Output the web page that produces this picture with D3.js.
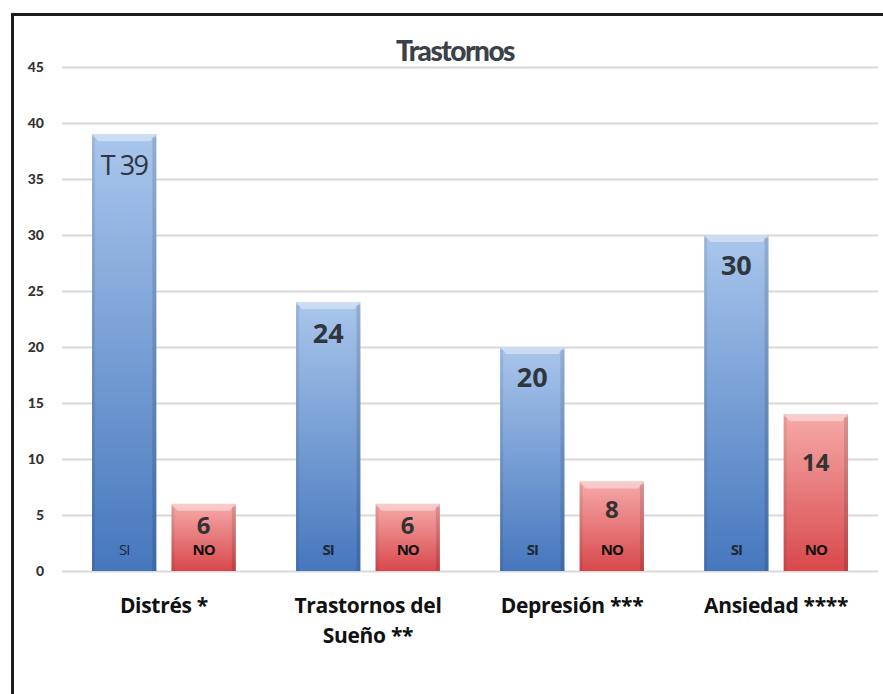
<!DOCTYPE html>
<html>
<head>
<meta charset="utf-8">
<script src="https://cdn.jsdelivr.net/npm/d3@7"></script>
<style>
  body { margin: 0; background: #fff; }
  svg { display: block; }
  .tick text { font-family: Lato, "Open Sans", sans-serif; font-weight: 900; font-size: 14px; fill: #333; }
</style>
</head>
<body>
<svg width="883" height="694"></svg>
<script>
// datos
var categories = ["Distrés *", "Trastornos del|Sueño **", "Depresión ***", "Ansiedad ****"],
	series = ["SI", "NO"],
	siValues = [39, 24, 20, 30],
	noValues = [6, 6, 8, 14],
	siLabels = ["T 39", "24", "20", "30"],
	yTicks = [0, 5, 10, 15, 20, 25, 30, 35, 40, 45];

var svg = d3.select("svg"),
	plotL = 62, plotR = 878, plotT = 67, plotB = 571;

// marco
svg.append("rect")
	.attr("x", 12.5).attr("y", 14.5)
	.attr("width", 900).attr("height", 720)
	.attr("fill", "none").attr("stroke", "#1e1e1e").attr("stroke-width", 3);

var y = d3.scaleLinear().domain([0, 45]).range([plotB, plotT]);
var x0 = d3.scaleBand().domain(categories).range([plotL, plotR])
	.paddingInner(0.295).paddingOuter(0.147);
var x1 = d3.scaleBand().domain(series).range([0, x0.bandwidth()]).paddingInner(0.19);

// gradientes
var defs = svg.append("defs");
function grad(id, c1, c2) {
	var g = defs.append("linearGradient").attr("id", id)
		.attr("x1", 0).attr("y1", 0).attr("x2", 0).attr("y2", 1);
	g.append("stop").attr("offset", "0%").attr("stop-color", c1);
	g.append("stop").attr("offset", "100%").attr("stop-color", c2);
}
grad("gSI", "#a9c6ec", "#4677bd");
grad("gNO", "#f6aaa9", "#d8484b");

// eje y con lineas de cuadricula
svg.append("g")
	.attr("transform", "translate(" + plotL + ",0)")
	.call(d3.axisLeft(y).tickValues(yTicks).tickSize(-(plotR - plotL)).tickPadding(18))
	.call(function(g) {
		g.select(".domain").remove();
		g.selectAll(".tick line").attr("stroke", "#d9d9d9").attr("stroke-width", 2);
	});

// titulo
svg.append("text")
	.attr("x", 455).attr("y", 61)
	.attr("text-anchor", "middle")
	.style("font-family", "Lato, sans-serif").style("font-weight", "900")
	.style("font-size", "28px").style("letter-spacing", "-1.5px")
	.attr("fill", "#3b4049")
	.text("Trastornos");

// barras
var rows = [];
categories.forEach(function(c, i) {
	rows.push({cat: c, s: "SI", v: siValues[i], lab: siLabels[i], i: i});
	rows.push({cat: c, s: "NO", v: noValues[i], lab: String(noValues[i]), i: i});
});

var bars = svg.selectAll(".bar").data(rows).enter().append("g").attr("class", "bar")
	.attr("transform", function(d) { return "translate(" + (x0(d.cat) + x1(d.s)) + ",0)"; });

var bw = x1.bandwidth();
bars.append("rect")
	.attr("x", 0).attr("width", bw)
	.attr("y", function(d) { return y(d.v); })
	.attr("height", function(d) { return y(0) - y(d.v); })
	.attr("fill", function(d) { return "url(#g" + d.s + ")"; });

// bisel superior y bordes laterales
bars.append("path")
	.attr("d", function(d) {
		var t = y(d.v);
		return "M0," + t + "L" + bw + "," + t + "L" + (bw - 6) + "," + (t + 7) + "L6," + (t + 7) + "Z";
	})
	.attr("fill", "#fff").attr("opacity", 0.4);
bars.append("rect")
	.attr("x", 0).attr("width", 3)
	.attr("y", function(d) { return y(d.v) + 3; })
	.attr("height", function(d) { return y(0) - y(d.v) - 3; })
	.attr("fill", "#000").attr("opacity", 0.08);
bars.append("rect")
	.attr("x", bw - 4).attr("width", 4)
	.attr("y", function(d) { return y(d.v) + 3; })
	.attr("height", function(d) { return y(0) - y(d.v) - 3; })
	.attr("fill", "#000").attr("opacity", 0.12);

// etiquetas de valor
bars.append("text")
	.attr("x", bw / 2)
	.attr("y", function(d) {
		return d.s == "SI" ? y(d.v - 2.8) + 9 : y(d.v * 0.7 - 1.3) - 5;
	})
	.attr("text-anchor", "middle")
	.style("font-family", "'Open Sans', sans-serif")
	.style("font-weight", function(d) { return d.i == 0 && d.s == "SI" ? "normal" : "bold"; })
	.style("font-size", function(d) { return d.s == "SI" ? "27px" : "24px"; })
	.style("letter-spacing", function(d) { return d.i == 0 && d.s == "SI" ? "-1.5px" : "0px"; })
	.attr("fill", function(d) { return d.s == "SI" ? "#2f3640" : "#333"; })
	.text(function(d) { return d.lab; });

// etiquetas SI / NO
bars.append("text")
	.attr("x", bw / 2)
	.attr("y", function(d) { return y(0) - 16; })
	.attr("text-anchor", "middle")
	.style("font-family", "'Open Sans', sans-serif")
	.style("font-weight", function(d) { return d.i == 0 && d.s == "SI" ? "normal" : "bold"; })
	.style("font-size", "15px")
	.style("letter-spacing", "-1px")
	.attr("fill", function(d) { return d.s == "SI" ? "#1d2838" : "#111"; })
	.text(function(d) { return d.s; });

// etiquetas de categoria
svg.selectAll(".cat").data(categories).enter().append("text")
	.attr("class", "cat")
	.attr("text-anchor", "middle")
	.style("font-family", "'Open Sans', sans-serif").style("font-weight", "bold")
	.style("font-size", "21px").style("letter-spacing", "-0.3px")
	.attr("fill", "#111")
	.each(function(c) {
		var t = d3.select(this), cx = x0(c) + x0.bandwidth() / 2;
		c.split("|").forEach(function(line, k) {
			t.append("tspan").attr("x", cx).attr("y", 613 + k * 30).text(line);
		});
	});
</script>
</body>
</html>
